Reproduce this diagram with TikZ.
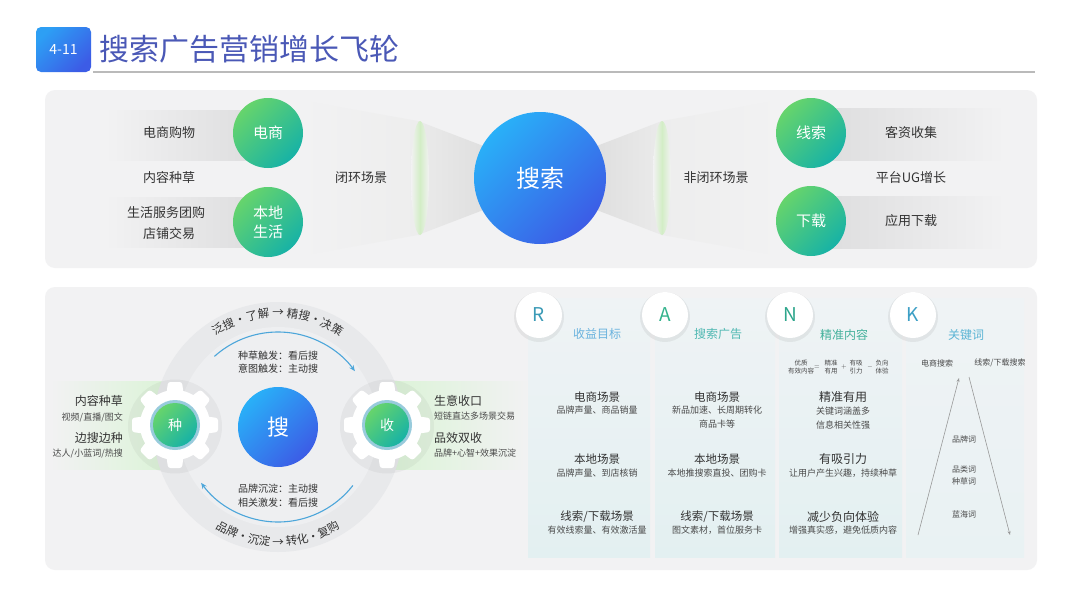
\documentclass[tikz,border=0pt]{standalone}
\usepackage{fontspec}
\setmainfont{Noto Sans CJK SC}
\usetikzlibrary{decorations.text,arrows.meta,calc}
\definecolor{panel}{HTML}{F2F2F3}
\definecolor{band}{HTML}{DCDCDD}
\definecolor{txt}{HTML}{333333}
\definecolor{txtsm}{HTML}{4A4A4A}
\definecolor{titleblue}{HTML}{4A58B6}
\definecolor{gA}{HTML}{66D46C}
\definecolor{gB}{HTML}{17B2A6}
\definecolor{bA}{HTML}{29B0F8}
\definecolor{bB}{HTML}{3C5CE6}
\definecolor{lensg}{HTML}{D3EDC6}
\definecolor{glow}{HTML}{DCF3D8}
\definecolor{ringout}{HTML}{E8E9EB}
\definecolor{ringin}{HTML}{EEEFF1}
\definecolor{arcblue}{HTML}{4CA6DA}
\definecolor{colA}{HTML}{EFF3F5}
\definecolor{colB}{HTML}{E3F0F1}
\definecolor{cR}{HTML}{3A9AB6}
\definecolor{cA}{HTML}{33B38C}
\definecolor{cN}{HTML}{2EA68C}
\definecolor{cK}{HTML}{3C9FC5}
\definecolor{tR}{HTML}{6BB3DE}
\definecolor{tA}{HTML}{4FB8B2}
\definecolor{tN}{HTML}{45B19C}
\definecolor{tK}{HTML}{5AB4D4}
\newcommand{\drawgear}[2]{%
 \begin{scope}[shift={(#1,#2)}]
  \fill[black, opacity=.04] (0,1.5) circle (47);
  \fill[white] (0,0) circle (35);
  \foreach \a in {0,45,...,315}{
    \fill[white, rotate=\a, rounded corners=2.5] (-9,-28) -- (-7,-43) -- (7,-43) -- (9,-28) -- cycle;
  }
  \fill[white!85!cyan!60!gB] (0,0) circle (25);
 \end{scope}}
\begin{document}
\begin{tikzpicture}[x=1pt,y=-1pt,
  lbl/.style={text=txt, font=\fontsize{13}{15}\selectfont, inner sep=0},
  greencirc/.style={circle, minimum size=70pt, inner sep=0, text=white, font=\fontsize{15}{19}\selectfont, align=center, top color=gA, bottom color=gB, shading angle=45},
  bluecirc/.style={circle, inner sep=0, text=white, top color=bA, bottom color=bB, shading angle=45},
  gearcirc/.style={circle, minimum size=44pt, inner sep=0, text=white, font=\fontsize{14}{14}\selectfont, top color=gA, bottom color=gB, shading angle=45},
  side/.style={text=txt, font=\fontsize{12}{14}\selectfont, inner sep=0},
  sidesm/.style={text=txtsm, font=\fontsize{9}{11}\selectfont, inner sep=0},
  inner/.style={text=txt, font=\fontsize{10}{12}\selectfont, inner sep=0},
  rankcirc/.style={circle, minimum size=46pt, inner sep=0, fill=white, font=\fontsize{19}{19}\selectfont},
  rankshadow/.style={fill=black, opacity=.06},
  coltitle/.style={font=\fontsize{12}{14}\selectfont, inner sep=0},
  colhead/.style={text=txt, font=\fontsize{11.5}{13}\selectfont, inner sep=0},
  colsm/.style={text=txtsm, font=\fontsize{9}{11}\selectfont, inner sep=0},
  tiny/.style={text=txtsm, font=\fontsize{6.5}{8}\selectfont, inner sep=0, align=center},
  ktxt/.style={text=txtsm, font=\fontsize{8}{10}\selectfont, inner sep=0},
  karrow/.style={draw=gray!80, line width=0.6pt, -{Stealth[length=4pt,width=3pt]}},
  arcarrow/.style={draw=arcblue, line width=1.1pt, -{Stealth[length=6pt,width=5pt]}}
]
\useasboundingbox (0,0) rectangle (1080,608);
\fill[white] (0,0) rectangle (1080,608);

% ---------- title ----------
\shade[rounded corners=5, top color=bA!80!bB, bottom color=bB, shading angle=45] (36,27) rectangle (91,72);
\node[text=white, font=\fontsize{14}{14}\selectfont, inner sep=0] (badge) at (63.5,50) {4-11};
\node[anchor=west, text=titleblue, font=\fontsize{30}{32}\selectfont, inner sep=0] (title) at (99,49) {搜索广告营销增长飞轮};
\draw[line width=1.5pt, color=black!27] (93,72) -- (1035,72);

% ---------- top panel ----------
\fill[panel, rounded corners=10] (45,90) rectangle (1037,268);
% bands
\shade[left color=panel, right color=band] (105,110) rectangle (268,160);
\shade[left color=panel, right color=band] (105,197) rectangle (268,247);
\shade[left color=band, right color=panel] (811,108) rectangle (1005,160);
\shade[left color=band, right color=panel] (811,196) rectangle (1005,248);
% wedges
\shade[left color=panel, right color=black!7] (300,100) -- (418,121) -- (418,235) -- (300,256) -- cycle;
\shade[left color=black!7, right color=panel] (662,121) -- (780,100) -- (780,256) -- (662,235) -- cycle;
\shade[left color=black!8, right color=black!15] (418,121) -- (520,160) -- (520,196) -- (418,235) -- cycle;
\shade[left color=black!15, right color=black!8] (560,160) -- (662,121) -- (662,235) -- (560,196) -- cycle;
% lenses
\shade[left color=panel, right color=panel, middle color=lensg] (420,178) ellipse (9 and 57);
\shade[left color=panel, right color=panel, middle color=lensg] (662,178) ellipse (9 and 57);
% circles
\node[bluecirc, minimum size=132pt, font=\fontsize{24}{24}\selectfont] (ss) at (540,178) {搜索};
\node[greencirc] (ds) at (268,133) {电商};
\node[greencirc] (bd) at (268,222) {本地\\生活};
\node[greencirc] (xs) at (811,133) {线索};
\node[greencirc] (xz) at (811,221) {下载};
% labels
\node[lbl] (l1) at (169,133) {电商购物};
\node[lbl] (l2) at (169,178) {内容种草};
\node[lbl] (l3) at (166,213) {生活服务团购};
\node[lbl] (l4) at (169,234) {店铺交易};
\node[lbl] (l5) at (361,178) {闭环场景};
\node[lbl] (l6) at (716,178) {非闭环场景};
\node[lbl] (r1) at (911,133) {客资收集};
\node[lbl] (r2) at (911,178) {平台UG增长};
\node[lbl] (r3) at (911,221) {应用下载};

% ---------- bottom panel ----------
\fill[panel, rounded corners=10] (45,287) rectangle (1037,570);
% glows
\shade[left color=panel, right color=glow] (50,381) rectangle (165,469);
\shade[left color=glow, right color=panel] (392,381) rectangle (530,469);
% ring
\fill[ringout] (278,427) circle (125);
\fill[ringin] (278,427) circle (100);
\begin{scope}[shift={(278,427)}, y=1pt]
 \draw[arcarrow] (132:95) arc[start angle=132, end angle=36, radius=95];
 \draw[arcarrow] (322:95) arc[start angle=322, end angle=216, radius=95];
 \path[decorate, decoration={text along path, text align=center, text color=txt,
   text={|\fontsize{11.5}{11.5}\selectfont|泛搜·了解 → 精搜·决策}}]
   (155:110) arc[start angle=155, end angle=25, radius=110];
 \path[decorate, decoration={text along path, text align=center, text color=txt,
   text={|\fontsize{11.5}{11.5}\selectfont|品牌·沉淀 → 转化·复购}}]
   (205:119) arc[start angle=205, end angle=335, radius=119];
\end{scope}
\node[inner] (i1) at (278,356) {种草触发：看后搜};
\node[inner] (i2) at (278,369) {意图触发：主动搜};
\node[inner] (i3) at (278,489) {品牌沉淀：主动搜};
\node[inner] (i4) at (278,503) {相关激发：看后搜};
\node[bluecirc, minimum size=80pt, font=\fontsize{22}{22}\selectfont] (sou) at (278,427) {搜};
% gears
\drawgear{175}{425}
\drawgear{387}{425}
\node[gearcirc] (zhong) at (175,425) {种};
\node[gearcirc] (shou) at (387,425) {收};
% side texts
\node[side, anchor=east] (s1) at (123,401) {内容种草};
\node[sidesm, anchor=east] (s2) at (123,417) {视频/直播/图文};
\node[side, anchor=east] (s3) at (123,438) {边搜边种};
\node[sidesm, anchor=east] (s4) at (123,454) {达人/小蓝词/热搜};
\node[side, anchor=west] (t1) at (434,401) {生意收口};
\node[sidesm, anchor=west] (t2) at (434,416) {短链直达多场景交易};
\node[side, anchor=west] (t3) at (434,438) {品效双收};
\node[sidesm, anchor=west] (t4) at (434,453) {品牌+心智+效果沉淀};

% columns
\shade[top color=colA, bottom color=colB] (528,298) rectangle (650,557);
\shade[top color=colA, bottom color=colB] (655,298) rectangle (775,557);
\shade[top color=colA, bottom color=colB] (779,298) rectangle (902,557);
\shade[top color=colA, bottom color=colB!50!colA] (906,298) rectangle (1024,557);
\fill[rankshadow] (539,317) circle (25);
\fill[rankshadow] (665,317) circle (25);
\fill[rankshadow] (790,317) circle (25);
\fill[rankshadow] (913,317) circle (25);
\node[rankcirc, text=cR] (R) at (539,315) {R};
\node[rankcirc, text=cA] (A) at (665,315) {A};
\node[rankcirc, text=cN] (N) at (790,315) {N};
\node[rankcirc, text=cK] (K) at (913,315) {K};
\node[coltitle, text=tR] (Rt) at (597,334) {收益目标};
\node[coltitle, text=tA] (At) at (718,334) {搜索广告};
\node[coltitle, text=tN] (Nt) at (844,335) {精准内容};
\node[coltitle, text=tK] (Kt) at (966,335) {关键词};
% R column
\node[colhead] (r11) at (597,397) {电商场景};
\node[colsm] (r12) at (597,410) {品牌声量、商品销量};
\node[colhead] (r21) at (597,459) {本地场景};
\node[colsm] (r22) at (597,473) {品牌声量、到店核销};
\node[colhead] (r31) at (597,517) {线索/下载场景};
\node[colsm] (r32) at (597,530) {有效线索量、有效激活量};
% A column
\node[colhead] (a11) at (717,397) {电商场景};
\node[colsm] (a12) at (717,410) {新品加速、长周期转化};
\node[colsm] (a13) at (717,424) {商品卡等};
\node[colhead] (a21) at (717,459) {本地场景};
\node[colsm] (a22) at (717,473) {本地推搜索直投、团购卡};
\node[colhead] (a31) at (717,517) {线索/下载场景};
\node[colsm] (a32) at (717,530) {图文素材，首位服务卡};
% N column
\node[tiny] (f1) at (801,367) {优质\\有效内容};
\node[tiny] (f2) at (817,367) {$=$};
\node[tiny] (f3) at (831,367) {精准\\有用};
\node[tiny] (f4) at (844,367) {$+$};
\node[tiny] (f5) at (856,367) {有吸\\引力};
\node[tiny] (f6) at (870,367) {$-$};
\node[tiny] (f7) at (882,367) {负向\\体验};
\node[colhead, font=\fontsize{12}{14}\selectfont] (n11) at (843,397) {精准有用};
\node[colsm] (n12) at (843,411) {关键词涵盖多};
\node[colsm] (n13) at (843,425) {信息相关性强};
\node[colhead, font=\fontsize{12}{14}\selectfont] (n21) at (843,459) {有吸引力};
\node[colsm] (n22) at (843,473) {让用户产生兴趣，持续种草};
\node[colhead, font=\fontsize{12}{14}\selectfont] (n31) at (843,517) {减少负向体验};
\node[colsm] (n32) at (843,530) {增强真实感，避免低质内容};
% K column
\node[ktxt] (k1) at (937,363) {电商搜索};
\node[ktxt] (k2) at (1000,363) {线索/下载搜索};
\node[ktxt] (k3) at (964,439) {品牌词};
\node[ktxt] (k4) at (964,469) {品类词};
\node[ktxt] (k5) at (964,481) {种草词};
\node[ktxt] (k6) at (964,514) {蓝海词};
\coordinate (ka1) at (918,535);
\coordinate (ka2) at (959,378);
\coordinate (kb1) at (969,377);
\coordinate (kb2) at (1010,535);
\draw[karrow] (ka1) -- (ka2);
\draw[karrow] (kb1) -- (kb2);
\end{tikzpicture}
\end{document}
